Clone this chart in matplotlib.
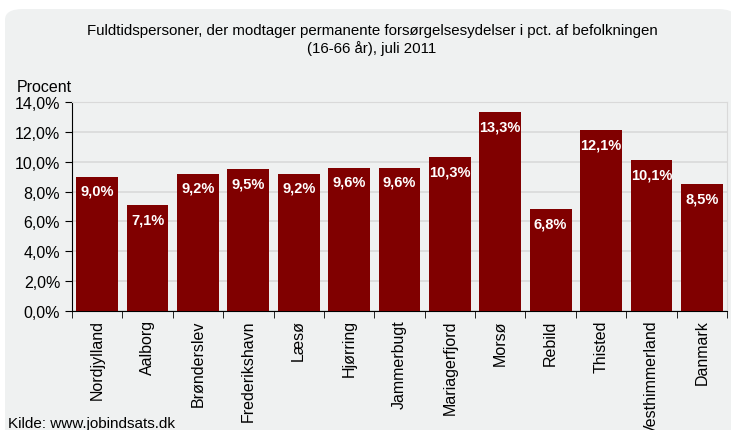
import numpy as np
import matplotlib.pyplot as plt
from matplotlib.patches import FancyBboxPatch
from matplotlib.ticker import FuncFormatter

plt.rcParams['font.family'] = ['Liberation Sans', 'DejaVu Sans']

# ---- Data ----
kommuner = ["Nordjylland", "Aalborg", "Brønderslev", "Frederikshavn", "Læsø",
            "Hjørring", "Jammerbugt", "Mariagerfjord", "Morsø", "Rebild",
            "Thisted", "Vesthimmerland", "Danmark"]
procent = [9.0, 7.1, 9.2, 9.5, 9.2, 9.6, 9.6, 10.3, 13.3, 6.8, 12.1, 10.1, 8.5]
yticks = [0, 2, 4, 6, 8, 10, 12, 14]

bg = '#eff1f1'
bar_col = '#800000'

fig = plt.figure(figsize=(7.31, 4.31), dpi=100)
fig.patch.set_facecolor('white')
# rounded grey panel behind everything
box = FancyBboxPatch((5/731, -0.05), 1.0, (421/431) + 0.05,
                     boxstyle="round,pad=0,rounding_size=0.025",
                     transform=fig.transFigure, facecolor=bg, edgecolor='none',
                     zorder=-5)
fig.patches.append(box)

ax = fig.add_axes([72/731, 119/431, 655/731, 209/431])
ax.set_zorder(2)
ax.set_facecolor(bg)

x = np.arange(len(kommuner))
ax.bar(x, procent, width=0.83, color=bar_col, zorder=3)

for xi, v in zip(x, procent):
    ax.text(xi, v - 0.95, f"{v:.1f}%".replace('.', ','), ha='center', va='center',
            color='white', fontsize=10.5, fontweight='bold', zorder=4)

ax.set_xlim(-0.5, len(kommuner) - 0.5)
ax.set_ylim(0, 14)
ax.set_yticks(yticks)
ax.yaxis.set_major_formatter(FuncFormatter(lambda v, p: f"{v:.1f}%".replace('.', ',')))
ax.grid(axis='y', color='#d9d9d9', linewidth=1.2, zorder=1)

ax.set_xticks(x)
ax.set_xticklabels(kommuner, rotation=90, fontsize=11.5)
ax.tick_params(axis='x', length=0, pad=6)
ax.set_xticks(np.arange(-0.5, len(kommuner)), minor=True)
ax.tick_params(axis='x', which='minor', length=5, direction='out', color='black')
ax.tick_params(axis='y', length=5, direction='out', labelsize=11.5)

for s in ['top', 'right']:
    ax.spines[s].set_color('#d9d9d9')
for s in ['left', 'bottom']:
    ax.spines[s].set_color('black')

fig.text(372/731, 1 - 31/431, "Fuldtidspersoner, der modtager permanente forsørgelsesydelser i pct. af befolkningen",
         ha='center', va='center', fontsize=10.8)
fig.text(372/731, 1 - 49/431, "(16-66 år), juli 2011", ha='center', va='center', fontsize=10.8)
fig.text(17/731, 1 - 87/431, "Procent", ha='left', va='center', fontsize=11.5)
fig.text(8/731, 1 - 424/431, "Kilde: www.jobindsats.dk", ha='left', va='center', fontsize=11)

fig.savefig("out.png", dpi=100)
